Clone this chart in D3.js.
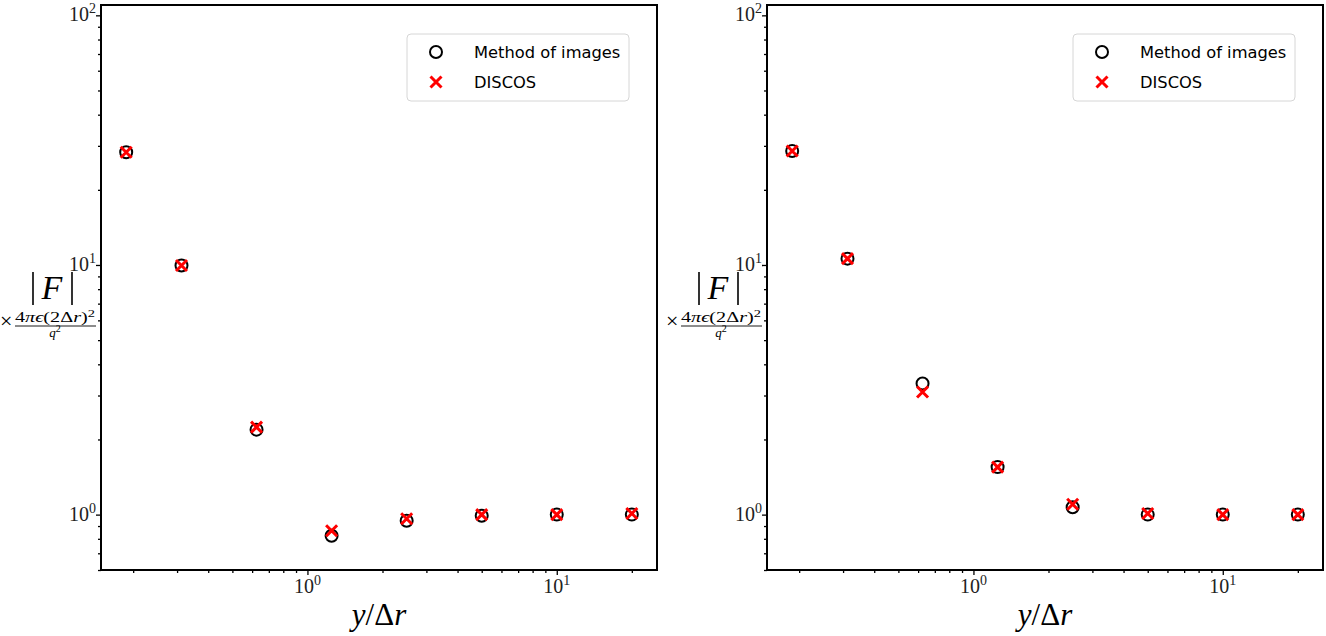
<!DOCTYPE html>
<html>
<head>
<meta charset="utf-8">
<script src="https://cdn.jsdelivr.net/npm/d3@7/dist/d3.min.js"></script>
<style>
  body { margin: 0; background: #fff; }
  svg { display: block; }
</style>
</head>
<body>
<div class="canvas"></div>
<script>
// Data
const xVals = [0.1875, 0.3125, 0.625, 1.25, 2.5, 5, 10, 20]
const leftImages = [28.3, 9.95, 2.19, 0.823, 0.945, 0.99, 1.0, 1.0]
const leftDiscos = [28.3, 9.95, 2.24, 0.862, 0.963, 1.0, 1.0, 1.01]
const rightImages = [28.6, 10.6, 3.35, 1.55, 1.07, 1.0, 1.0, 1.0]
const rightDiscos = [28.6, 10.6, 3.10, 1.55, 1.10, 1.01, 1.0, 1.0]
const legendLabels = ['Method of images', 'DISCOS']
const xMajor = [1, 10]
const yMajor = [1, 10, 100]

const wWidth = 1326
const wHeight = 636

const svg = d3.select('.canvas')
    .append('svg')
    .attr('width', wWidth)
    .attr('height', wHeight)

// axes limits (matplotlib style 5% log margins on x, fixed y)
const xDomain = [Math.pow(10, -0.828), Math.pow(10, 1.402)]
const yDomain = [0.6, 110]

const panels = [
    {left: 101, images: leftImages, discos: leftDiscos},
    {left: 767, images: rightImages, discos: rightDiscos}
]
const plotTop = 5
const plotW = 556
const plotH = 565

const minorTicks = (lo, hi) => {
    const out = []
    for (let e = -2; e <= 2; e++) {
        for (let m = 2; m <= 9; m++) {
            const v = m * Math.pow(10, e)
            if (v >= lo && v <= hi) out.push(v)
        }
    }
    return out
}

// "10" with a raised exponent
const powLabel = (sel, v) => {
    const e = Math.round(Math.log10(v))
    sel.append('tspan').text('10')
    sel.append('tspan').attr('dy', -8).style('font-size', '14px').text(e)
}

const crossPath = s => `M${-s},${-s}L${s},${s}M${-s},${s}L${s},${-s}`

panels.forEach(p => {
    const g = svg.append('g')
        .attr('transform', `translate(${p.left}, ${plotTop})`)

    const xScale = d3.scaleLog().domain(xDomain).range([0, plotW])
    const yScale = d3.scaleLog().domain(yDomain).range([plotH, 0])

    // minor ticks
    g.append('g')
        .attr('transform', `translate(0, ${plotH})`)
        .call(d3.axisBottom(xScale).tickValues(minorTicks(...xDomain)).tickSize(3).tickSizeOuter(0).tickFormat(''))
    g.append('g')
        .call(d3.axisLeft(yScale).tickValues(minorTicks(...yDomain)).tickSize(3).tickSizeOuter(0).tickFormat(''))

    // major ticks
    g.append('g')
        .attr('transform', `translate(0, ${plotH})`)
        .call(d3.axisBottom(xScale).tickValues(xMajor).tickSize(5).tickSizeOuter(0).tickFormat(''))
    g.append('g')
        .call(d3.axisLeft(yScale).tickValues(yMajor).tickSize(5).tickSizeOuter(0).tickFormat(''))

    g.selectAll('.domain').remove()
    g.selectAll('.tick line').attr('stroke', '#000').attr('stroke-width', 1.3)

    // tick labels as plain text
    g.selectAll('text.xtick')
        .data(xMajor)
        .enter()
        .append('text')
        .attr('class', 'xtick')
        .attr('x', d => xScale(d))
        .attr('y', plotH + 23)
        .attr('text-anchor', 'middle')
        .style('font-family', '"Liberation Serif", serif')
        .style('font-size', '20px')
        .style('fill', '#222')
        .each(function(d) { powLabel(d3.select(this), d) })
    g.selectAll('text.ytick')
        .data(yMajor)
        .enter()
        .append('text')
        .attr('class', 'ytick')
        .attr('x', -5)
        .attr('y', d => yScale(d) + 6)
        .attr('text-anchor', 'end')
        .style('font-family', '"Liberation Serif", serif')
        .style('font-size', '20px')
        .style('fill', '#222')
        .each(function(d) { powLabel(d3.select(this), d) })

    // frame
    g.append('rect')
        .attr('width', plotW)
        .attr('height', plotH)
        .attr('fill', 'none')
        .attr('stroke', '#000')
        .attr('stroke-width', 2)

    // method of images: open circles
    g.selectAll('circle.img')
        .data(xVals.map((x, i) => [x, p.images[i]]))
        .enter()
        .append('circle')
        .attr('class', 'img')
        .attr('cx', d => xScale(d[0]))
        .attr('cy', d => yScale(d[1]))
        .attr('r', 6)
        .attr('fill', 'none')
        .attr('stroke', '#000')
        .attr('stroke-width', 2)

    // DISCOS: red crosses
    g.selectAll('path.disc')
        .data(xVals.map((x, i) => [x, p.discos[i]]))
        .enter()
        .append('path')
        .attr('class', 'disc')
        .attr('transform', d => `translate(${xScale(d[0])}, ${yScale(d[1])})`)
        .attr('d', crossPath(5.5))
        .attr('stroke', 'red')
        .attr('stroke-width', 3)
        .attr('fill', 'none')

    // legend
    const lg = g.append('g')
        .attr('transform', `translate(${plotW - 250}, 29)`)
    lg.append('rect')
        .attr('width', 222)
        .attr('height', 67)
        .attr('rx', 4)
        .attr('fill', '#fff')
        .attr('fill-opacity', 0.8)
        .attr('stroke', '#d6d6d6')
    lg.append('circle')
        .attr('cx', 29).attr('cy', 18).attr('r', 6)
        .attr('fill', 'none').attr('stroke', '#000').attr('stroke-width', 2)
    lg.append('path')
        .attr('transform', 'translate(29, 48)')
        .attr('d', crossPath(5.5))
        .attr('stroke', 'red').attr('stroke-width', 3)
    lg.selectAll('text')
        .data(legendLabels)
        .enter()
        .append('text')
        .attr('x', 67)
        .attr('y', (d, i) => 24 + i * 30)
        .attr('font-family', '"DejaVu Sans", sans-serif')
        .attr('font-size', 16.3)
        .text(d => d)

    // x label
    const xl = g.append('text')
        .attr('x', plotW / 2)
        .attr('y', plotH + 55)
        .attr('text-anchor', 'middle')
        .attr('font-family', '"Liberation Serif", serif')
        .attr('font-size', 31)
    xl.append('tspan').attr('font-style', 'italic').text('y')
    xl.append('tspan').text('/Δ')
    xl.append('tspan').attr('font-style', 'italic').text('r')

    // y label: |F| x 4 pi eps (2 dr)^2 / q^2
    const yl = g.append('g')
        .attr('font-family', '"Liberation Serif", serif')
    yl.append('text')
        .attr('x', -49)
        .attr('y', 294)
        .attr('text-anchor', 'middle')
        .attr('font-size', 34)
        .attr('font-style', 'italic')
        .text('F')
    yl.selectAll('line.bar')
        .data([-68, -29])
        .enter()
        .append('line')
        .attr('class', 'bar')
        .attr('x1', d => d).attr('x2', d => d)
        .attr('y1', 267).attr('y2', 300)
        .attr('stroke', '#000').attr('stroke-width', 1.6)
    yl.append('text')
        .attr('x', -101)
        .attr('y', 323)
        .style('font-size', '22px')
        .text('×')
    const num = yl.append('text')
        .attr('x', -86)
        .attr('y', 317)
        .attr('font-size', 14)
        .attr('textLength', 80)
        .attr('lengthAdjust', 'spacingAndGlyphs')
    num.append('tspan').text('4')
    num.append('tspan').attr('font-style', 'italic').text('πϵ')
    num.append('tspan').text('(2Δ')
    num.append('tspan').attr('font-style', 'italic').text('r')
    num.append('tspan').text(')')
    num.append('tspan').attr('dy', -5).attr('font-size', 10).text('2')
    yl.append('line')
        .attr('x1', -86).attr('x2', -5)
        .attr('y1', 321).attr('y2', 321)
        .attr('stroke', '#000').attr('stroke-width', 0.9)
    const den = yl.append('text')
        .attr('x', -46)
        .attr('y', 332)
        .attr('text-anchor', 'middle')
        .attr('font-size', 13)
    den.append('tspan').attr('font-style', 'italic').text('q')
    den.append('tspan').attr('dy', -5).attr('font-size', 10).text('2')
})
</script>
</body>
</html>
